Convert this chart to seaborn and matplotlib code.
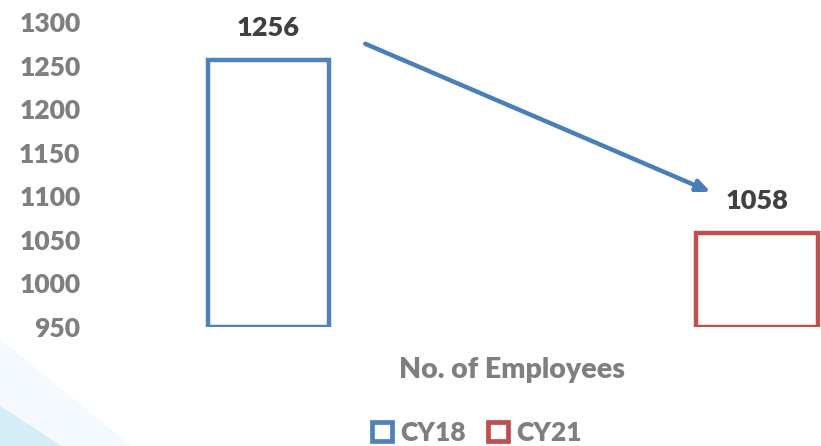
import matplotlib
matplotlib.use("Agg")
import matplotlib.pyplot as plt
import seaborn as sns
import pandas as pd
from matplotlib.patches import Patch, Polygon

# data
years = ["CY18", "CY21"]
employees = [1256, 1058]
colors = ["#4f81bd", "#c0504d"]
y_ticks = [950, 1000, 1050, 1100, 1150, 1200, 1250, 1300]
base = 950

df = pd.DataFrame({"year": years, "employees": employees})

sns.set_style("white")
plt.rcParams["font.family"] = ["Lato", "DejaVu Sans"]

fig = plt.figure(figsize=(8.21, 4.46), dpi=100)

# faint blue wash at bottom left
fig.patches.append(Polygon([(0, 0), (0, 0.09), (0.075, 0.0)], closed=True,
                           transform=fig.transFigure, facecolor="#d4edf9",
                           edgecolor="none", zorder=0))
fig.patches.append(Polygon([(0, 0), (0, 0.24), (0.16, 0.0)], closed=True,
                           transform=fig.transFigure, facecolor="#f3f9fd",
                           edgecolor="none", zorder=-1))

ax = fig.add_axes([100 / 821, 119 / 446, 721 / 821, 305 / 446])
ax.patch.set_alpha(0)

sns.barplot(data=df, x="year", y="employees", hue="year", palette=colors,
            fill=False, width=0.248, linewidth=3.2, legend=False, ax=ax)

# bars start at the axis floor
for p in ax.patches:
    h = p.get_height()
    p.set_y(base)
    p.set_height(h - base)
    p.set_joinstyle("miter")

for i, v in enumerate(employees):
    ax.text(i, v + 23, str(v), ha="center", va="bottom", fontsize=19.5,
            fontweight="heavy", color="#404040")

# trend arrow
ax.annotate("", xy=(0.905, 1105), xytext=(0.198, 1275),
            arrowprops=dict(arrowstyle="-|>,head_length=0.8,head_width=0.35",
                            color="#4a7ebb", lw=3.2, shrinkA=0, shrinkB=0))

ax.set_ylim(base, 1300)
ax.set_xlim(-0.345, 1.131)
ax.set_yticks(y_ticks)
ax.set_yticklabels([str(t) for t in y_ticks], fontsize=19, fontweight="heavy",
                   color="#7f7f7f")
ax.set_xticks([])
ax.tick_params(axis="y", length=0, pad=14)
ax.set_xlabel("No. of Employees", fontsize=20.5, fontweight="heavy",
              color="#7f7f7f")
ax.xaxis.set_label_coords((512 - 100) / 721, -30 / 305)
ax.set_ylabel("")
sns.despine(ax=ax, left=True, bottom=True)

handles = [Patch(facecolor="white", edgecolor=c, linewidth=3.4, label=y)
           for y, c in zip(years, colors)]
leg = fig.legend(handles=handles, loc="center", bbox_to_anchor=(477 / 821, 13 / 446),
                 ncol=2, frameon=False, handlelength=0.75, handleheight=0.75,
                 handletextpad=0.3, columnspacing=0.85,
                 prop={"size": 19, "weight": "heavy"})
for t in leg.get_texts():
    t.set_color("#7f7f7f")

fig.savefig("out.png", dpi=100)
